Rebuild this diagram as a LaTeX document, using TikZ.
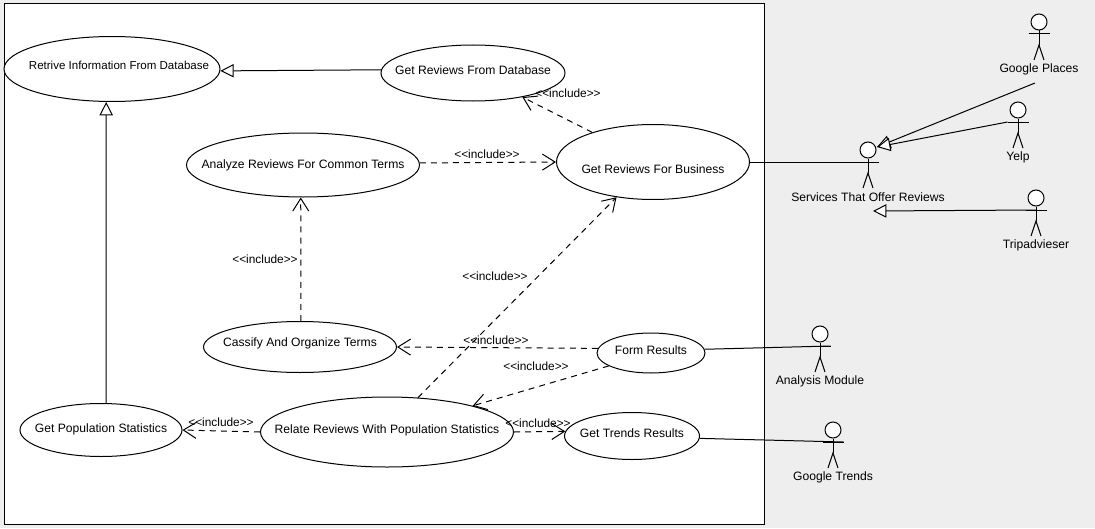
\documentclass[tikz,border=0pt]{standalone}
\usepackage{fontspec}
\setmainfont{Liberation Sans}
\usetikzlibrary{arrows.meta, shapes.geometric}

\definecolor{panelgray}{HTML}{EEEEEE}
\newcommand{\incl}{<{}<include>{}>}
% #1 raise, #2 text
\newcommand{\uctext}[2]{\raisebox{\dimexpr#1-3.9pt\relax}[0pt][0pt]{\makebox[0pt]{#2}}}
% #1 name, #2 x, #3 y, #4 text
\newcommand{\drawactor}[4]{
    \node[actorhead] (#1) at (#2, #3) {};
    \coordinate (#1Arm) at (#2, #3+12);
    \coordinate (#1ArmL) at (#2-10.5, #3+12);
    \coordinate (#1ArmR) at (#2+10.5, #3+12);
    \coordinate (#1Hip) at (#2, #3+23);
    \draw (#1.south) -- (#1Hip);
    \draw (#1ArmL) -- (#1ArmR);
    \draw (#2-5, #3+38) -- (#1Hip) -- (#2+5, #3+38);
    \node[txt] (#1Name) at (#2, #3+47.5) {#4};
}
\tikzset{
    txt/.style={inner sep=0pt, font=\fontsize{9.1pt}{11pt}\selectfont},
    usecase/.style={draw, ellipse, fill=white, inner sep=0pt, font=\fontsize{9.1pt}{11pt}\selectfont},
    actorhead/.style={draw, circle, fill=white, minimum size=12pt, inner sep=0pt},
    incl/.style={txt, font=\fontsize{8.9pt}{11pt}\selectfont},
    dep/.style={dash pattern=on 4.5pt off 3.8pt, -{Straight Barb[length=9.5pt, width=12pt, line width=.75pt]}},
    gen/.style={-{Triangle[open, fill=white, length=10pt, width=10pt]}}
}

\begin{document}
\begin{tikzpicture}[x=0.75pt, y=-0.75pt, line width=.75pt]
    \useasboundingbox (0, 0) rectangle (1095, 528);
    \fill[panelgray] (0, 0) rectangle (1095, 528);
    \draw[fill=white] (4, 4) rectangle (764, 524);

    % use cases
    \node[usecase, font=\fontsize{8.65pt}{11pt}\selectfont, minimum width=162pt, minimum height=48.75pt] (retrive) at (112, 69) {\uctext{3.7pt}{\hspace*{10.5pt}Retrive Information From Database}};
    \node[usecase, minimum width=138pt, minimum height=42pt] (fromdb) at (473, 73) {\uctext{3pt}{Get Reviews From Database}};
    \node[usecase, minimum width=174.75pt, minimum height=48pt] (analyze) at (303, 165) {\uctext{1.5pt}{Analyze Reviews For Common Terms}};
    \node[usecase, minimum width=144.75pt, minimum height=56.25pt] (business) at (653, 162) {\uctext{-4.5pt}{Get Reviews For Business}};
    \node[usecase, minimum width=144.75pt, minimum height=38.25pt] (cassify) at (300, 347) {\uctext{4.5pt}{Cassify And Organize Terms}};
    \node[usecase, minimum width=81pt, minimum height=30pt] (form) at (651, 353) {\uctext{3pt}{Form Results}};
    \node[usecase, minimum width=121.5pt, minimum height=39.75pt] (population) at (101, 430) {\uctext{2pt}{Get Population Statistics}};
    \node[usecase, minimum width=189.75pt, minimum height=52.5pt] (relate) at (387, 432) {\uctext{3pt}{Relate Reviews With Population Statistics}};
    \node[usecase, minimum width=101.25pt, minimum height=35.25pt] (trends) at (632, 436) {\uctext{3pt}{Get Trends Results}};

    % actors
    \drawactor{places}{1039}{22}{Google Places}
    \drawactor{yelp}{1018}{110}{Yelp}
    \drawactor{services}{868}{150}{Services That Offer Reviews}
    \drawactor{tripadvieser}{1036}{198}{Tripadvieser}
    \drawactor{analysis}{820}{334}{Analysis Module}
    \drawactor{gtrends}{833}{430}{Google Trends}

    % generalizations
    \draw[gen] (fromdb.178) -- (retrive.359);
    \draw[gen] (population.79) -- (retrive.260);
    \coordinate (servicesTip) at (877, 147);
    \coordinate (placesEnd) at (1035, 83);
    \coordinate (tripTip) at (873, 211);
    \draw[gen] (placesEnd) -- (servicesTip);
    \draw[gen] (yelpArmL) -- (servicesTip);
    \draw[gen] (tripadvieserArm) -- (tripTip);

    % associations
    \draw (business.east) -- (servicesArmR);
    \draw (form.4) -- (analysisArmR);
    \draw (trends.-2) -- (gtrendsArmR);

    % includes
    \draw[dep] (business.154) -- (fromdb.334);
    \draw[dep] (analyze.1) -- (business.west);
    \draw[dep] (cassify.88) -- (analyze.266);
    \draw[dep] (relate.48) -- (business.224);
    \draw[dep] (form.175) -- (cassify.east);
    \draw[dep] (form.197) -- (relate.17);
    \draw[dep] (relate.west) -- (population.east);
    \draw[dep] (relate.east) -- (trends.176);

    \node[incl] (inclDb) at (568, 93) {\incl};
    \node[incl] (inclAnalyze) at (487, 154.5) {\incl};
    \node[incl] (inclCassify) at (265, 259) {\incl};
    \node[incl] (inclRelate) at (495, 276) {\incl};
    \node[incl] (inclForm) at (496, 340) {\incl};
    \node[incl] (inclFormRelate) at (536, 366) {\incl};
    \node[incl] (inclPopulation) at (221, 422) {\incl};
    \node[incl] (inclTrends) at (538, 423) {\incl};
\end{tikzpicture}
\end{document}
